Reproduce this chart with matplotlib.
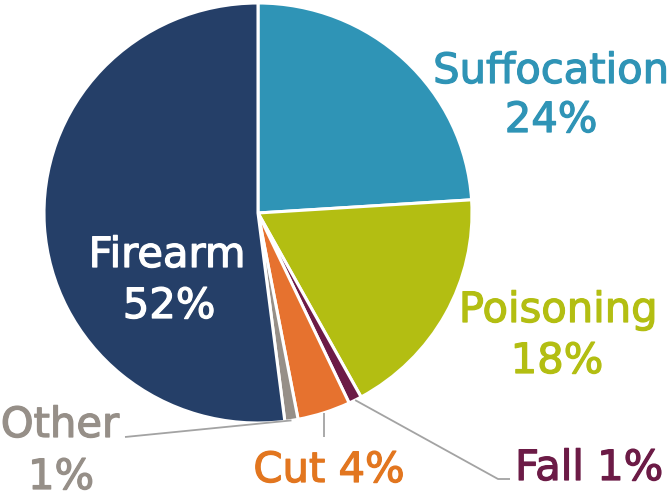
import matplotlib.pyplot as plt
import matplotlib.patheffects as pe
import numpy as np

# share of deaths by mechanism, clockwise from 12 o'clock
categories = ["Suffocation", "Poisoning", "Fall", "Cut", "Other", "Firearm"]
shares = [24, 18, 1, 4, 1, 52]
colors = ["#2F94B6", "#B3BE12", "#6C1B46", "#E6722F", "#968F88", "#253F68"]
text_colors = ["#2F94B6", "#B3BE12", "#6C1B46", "#E2761F", "#968F88", "white"]

FIG_W, FIG_H = 672, 498
CX, CY, RX, RY = 258, 213, 214, 210  # pie centre / radii in pixels


def to_data(px, py):
    # pixel position (origin top-left) -> data coords of the full-figure axes
    return (px - CX) / RX, (CY - py) / RY


def wedge_point(idx, r=1.0):
    # point on the middle of wedge idx, pie drawn clockwise from the top
    start = sum(shares[:idx])
    mid = (start + shares[idx] / 2) / sum(shares) * 2 * np.pi
    return r * np.sin(mid), r * np.cos(mid)


fig = plt.figure(figsize=(FIG_W / 100, FIG_H / 100), dpi=100)
ax = fig.add_axes([0, 0, 1, 1])
ax.pie(shares, colors=colors, startangle=90, counterclock=False, radius=1.0,
       wedgeprops=dict(edgecolor="white", linewidth=2.2))
ax.set_aspect("auto")
ax.set_xlim(-CX / RX, (FIG_W - CX) / RX)
ax.set_ylim((CY - FIG_H) / RY, CY / RY)
ax.axis("off")

fs = 30
font = dict(family="DejaVu Sans", fontsize=fs, ha="center", va="baseline")


def label(txt, px, py, color):
    x, y = to_data(px, py)
    # a thin stroke in the same colour makes the glyphs a bit heavier
    ax.text(x, y, txt, color=color,
            path_effects=[pe.withStroke(linewidth=0.9, foreground=color)], **font)


# labels (two lines where the name sits above the share)
label("Suffocation", 551, 83, text_colors[0])
label(f"{shares[0]}%", 551, 132, text_colors[0])
label("Poisoning", 558, 322, text_colors[1])
label(f"{shares[1]}%", 557, 373, text_colors[1])
label(f"Fall {shares[2]}%", 589, 480, text_colors[2])
label(f"Cut {shares[3]}%", 329, 482, text_colors[3])
label("Other", 60, 437, text_colors[4])
label(f"{shares[4]}%", 61, 489, text_colors[4])
label("Firearm", 167, 267, text_colors[5])
label(f"{shares[5]}%", 169, 318, text_colors[5])

# leader lines for the small slices
line_kw = dict(color="#A3A3A3", linewidth=1.3, solid_capstyle="butt")

x0, y0 = wedge_point(2)
x1, y1 = to_data(498, 479)
x2, y2 = to_data(510, 479)
ax.plot([x0, x1, x2], [y0, y1, y2], **line_kw)

x0, y0 = wedge_point(3)
_, y1 = to_data(0, 437)
ax.plot([x0, x0], [y0, y1], **line_kw)

x0, y0 = wedge_point(4)
x1, y1 = to_data(125, 437)
ax.plot([x0, x1], [y0, y1], **line_kw)

fig.savefig("out.png", dpi=100)
